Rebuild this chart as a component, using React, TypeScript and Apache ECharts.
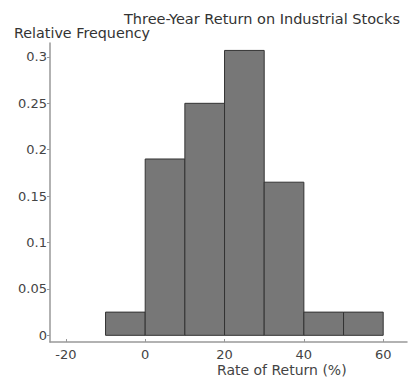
import React, { useEffect, useRef } from "react";
import * as echarts from "echarts";

const binStarts = [-10, 0, 10, 20, 30, 40, 50];
const binEnds = [0, 10, 20, 30, 40, 50, 60];
const frequencies = [0.025, 0.19, 0.25, 0.307, 0.165, 0.025, 0.025];
const xTicks = [-20, 0, 20, 40, 60];
const yTicks = [0, 0.05, 0.1, 0.15, 0.2, 0.25, 0.3];

const FONT = "DejaVu Sans";

export default function App() {
  const ref = useRef<HTMLDivElement>(null);
  useEffect(() => {
    document.body.style.margin = "0";
    const chart = echarts.init(ref.current!, null, { renderer: "svg" });
    const data = binStarts.map((s, i) => [s, binEnds[i], frequencies[i]]);
    chart.setOption({
      animation: false,
      backgroundColor: "#fff",
      title: {
        text: "Three-Year Return on Industrial Stocks",
        right: 4,
        top: 6,
        textStyle: { fontFamily: FONT, fontSize: 14.5, fontWeight: "normal", color: "#333" },
      },
      graphic: [
        {
          type: "text",
          left: 14,
          top: 26,
          style: { text: "Relative Frequency", font: `14.3px "${FONT}"`, fill: "#333" },
        },
        {
          type: "text",
          left: 217,
          top: 363,
          style: { text: "Rate of Return (%)", font: `14px "${FONT}"`, fill: "#444" },
        },
      ],
      grid: { left: 50, right: 2, top: 43, bottom: 41 },
      xAxis: {
        type: "value",
        min: -24,
        max: 66,
        splitLine: { show: false },
        axisLine: { show: true, onZero: false, lineStyle: { color: "#999", width: 1.5 } },
        axisTick: { show: true, inside: true, length: 3, lineStyle: { color: "#999" }, customValues: xTicks },
        axisLabel: { customValues: xTicks, margin: 6, fontFamily: FONT, fontSize: 13, color: "#444" },
      },
      yAxis: {
        type: "value",
        min: -0.0072,
        max: 0.315,
        splitLine: { show: false },
        axisLine: { show: true, onZero: false, lineStyle: { color: "#999", width: 1.5 } },
        axisTick: { show: true, length: 3, lineStyle: { color: "#999" }, customValues: yTicks },
        axisLabel: { customValues: yTicks, margin: 3, fontFamily: FONT, fontSize: 13, color: "#444" },
      },
      series: [
        {
          type: "custom",
          data,
          encode: { x: [0, 1], y: 2 },
          renderItem: (params: any, api: any) => {
            const p0 = api.coord([api.value(0), api.value(2)]);
            const p1 = api.coord([api.value(1), 0]);
            return {
              type: "rect",
              shape: { x: p0[0], y: p0[1], width: p1[0] - p0[0], height: p1[1] - p0[1] },
              style: { fill: "#777777", stroke: "#333333", lineWidth: 1 },
            };
          },
        },
      ],
    });
    return () => chart.dispose();
  }, []);
  return <div ref={ref} style={{ width: 409, height: 383 }} />;
}
